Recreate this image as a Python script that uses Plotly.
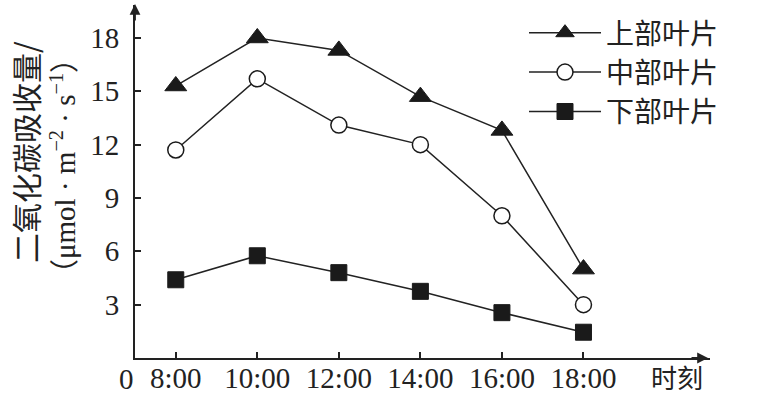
import plotly.graph_objects as go

hours = [8, 10, 12, 14, 16, 18]
hour_labels = ["8:00", "10:00", "12:00", "14:00", "16:00", "18:00"]
upper = [15.3, 18.0, 17.3, 14.7, 12.8, 5.0]
middle = [11.7, 15.7, 13.1, 12.0, 8.0, 3.0]
lower = [4.4, 5.75, 4.8, 3.75, 2.55, 1.45]
y_ticks = [3, 6, 9, 12, 15, 18]
series_names = ["上部叶片", "中部叶片", "下部叶片"]

W, H = 769, 396
L, R, T, B = 135, 59, 5, 38
pw, ph = W - L - R, H - T - B

def px_x(px):
    return (px - L) / pw

def px_y(py):
    return (H - B - py) / ph

line_color = "#222222"
fig = go.Figure()
fig.add_trace(go.Scatter(x=hours, y=upper, name=series_names[0], mode="lines+markers",
                         line=dict(color=line_color, width=1.5),
                         marker=dict(symbol="triangle-up", size=19, color="#1a1a1a",
                                     line=dict(color="#1a1a1a", width=1))))
fig.add_trace(go.Scatter(x=hours, y=middle, name=series_names[1], mode="lines+markers",
                         line=dict(color=line_color, width=1.5),
                         marker=dict(symbol="circle", size=16, color="white",
                                     line=dict(color="#1a1a1a", width=1.5))))
fig.add_trace(go.Scatter(x=hours, y=lower, name=series_names[2], mode="lines+markers",
                         line=dict(color=line_color, width=1.5),
                         marker=dict(symbol="square", size=16, color="#1a1a1a",
                                     line=dict(color="#1a1a1a", width=1))))

serif = "Liberation Serif, Noto Sans CJK SC"
cjk = "Noto Sans CJK SC"

fig.update_layout(
    width=W, height=H,
    margin=dict(l=L, r=R, t=T, b=B, pad=0, autoexpand=False),
    paper_bgcolor="white", plot_bgcolor="white",
    showlegend=True,
    legend=dict(x=524 / W, y=1 - 8 / H, xref="container", yref="container",
                xanchor="left", yanchor="top",
                font=dict(family=cjk, size=28, color="#222"),
                bgcolor="rgba(0,0,0,0)", itemwidth=72, tracegroupgap=0),
    xaxis=dict(range=[7, 7 + (710 - L) / 40.77], showgrid=False, zeroline=False,
               automargin=False,
               showline=True, linecolor="#222", linewidth=2,
               tickmode="array", tickvals=hours, ticktext=hour_labels,
               ticks="inside", ticklen=6, tickwidth=1.5, tickcolor="#222",
               tickfont=dict(family=serif, size=29, color="#222"),
               ticklabelstandoff=-7),
    yaxis=dict(range=[0, (H - B - T) / 17.78], showgrid=False, zeroline=False,
               automargin=False,
               showline=True, linecolor="#222", linewidth=2,
               tickmode="array", tickvals=y_ticks,
               ticks="inside", ticklen=6, tickwidth=1.5, tickcolor="#222",
               tickfont=dict(family=serif, size=29, color="#222"),
               ticklabelstandoff=8),
)

annotations = [
    # axis arrows
    dict(x=px_x(708), y=0, xref="paper", yref="y", ax=-18, ay=0,
         showarrow=True, arrowhead=2, arrowsize=1.2, arrowwidth=1.8, arrowcolor="#222", text=""),
    dict(x=7, y=px_y(4), xref="x", yref="paper", ax=0, ay=18, showarrow=True, arrowhead=2,
         arrowsize=1.2, arrowwidth=1.8, arrowcolor="#222", text=""),
    dict(x=px_x(126), y=px_y(379), xref="paper", yref="paper", text="0", showarrow=False,
         font=dict(family=serif, size=29, color="#222"), xanchor="center", yanchor="middle"),
    dict(x=px_x(677), y=px_y(376), xref="paper", yref="paper", text="时刻", showarrow=False,
         font=dict(family=cjk, size=26, color="#222"), xanchor="center", yanchor="middle"),
    dict(x=px_x(25), y=px_y(152), xref="paper", yref="paper", text="二氧化碳吸收量/",
         textangle=-90, showarrow=False, font=dict(family=cjk, size=30, color="#222"),
         xanchor="center", yanchor="middle"),
    dict(x=px_x(63), y=px_y(166), xref="paper", yref="paper",
         text="（μmol · m<sup>−2</sup> · s<sup>−1</sup>）",
         textangle=-90, showarrow=False, font=dict(family=serif, size=29, color="#222"),
         xanchor="center", yanchor="middle"),
]
fig.update_layout(annotations=annotations)

fig.write_html("out.html")
